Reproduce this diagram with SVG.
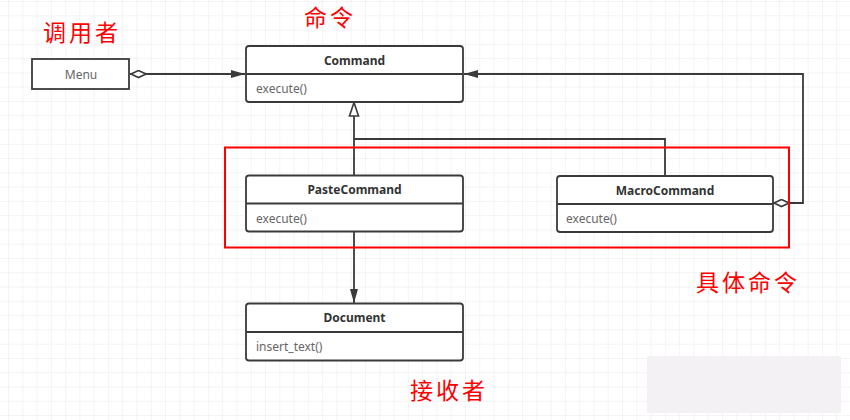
<svg xmlns="http://www.w3.org/2000/svg" width="850" height="420" viewBox="0 0 850 420">
<style>
.box{fill:#fff;stroke:#3a3a3a;stroke-width:1.8}
.div{stroke:#3a3a3a;stroke-width:1.8}
.title{font-family:"Noto Sans","Open Sans",sans-serif;font-size:12px;font-weight:bold;fill:#333;text-anchor:middle}
.meth{font-family:"Noto Sans","Open Sans",sans-serif;font-size:12px;fill:#666}
.conn{fill:none;stroke:#3a3a3a;stroke-width:1.8}
.red{font-family:"Noto Sans CJK SC",sans-serif;fill:#f00;font-size:23px;letter-spacing:3px}
</style>
<defs>
<pattern id="grid" x="8" y="1" width="14.28" height="14.28" patternUnits="userSpaceOnUse">
<path d="M0 0H14.28M0 0V14.28" fill="none" stroke="#ece8ec" stroke-width="1"/>
</pattern>
<marker id="arrow" viewBox="0 0 14 10" refX="14" refY="5" markerWidth="14" markerHeight="10" markerUnits="userSpaceOnUse" orient="auto">
<path d="M0 1L14 5L0 9Z" fill="#3a3a3a"/>
</marker>
<marker id="diamond" viewBox="0 0 17 9" refX="0" refY="4.5" markerWidth="17" markerHeight="9" markerUnits="userSpaceOnUse" orient="auto">
<path d="M1 4.5L8.5 1L16 4.5L8.5 8Z" fill="#fff" stroke="#3a3a3a" stroke-width="1.6"/>
</marker>
</defs>
<rect width="850" height="420" fill="#fff"/>
<rect width="850" height="420" fill="url(#grid)"/>
<rect x="647" y="356" width="194" height="57" fill="#f3f1f3"/>

<g id="connectors">
<path class="conn" d="M130 74H245" marker-start="url(#diamond)" marker-end="url(#arrow)"/>
<path class="conn" d="M773 203H803V74H464" marker-start="url(#diamond)" marker-end="url(#arrow)"/>
<path class="conn" d="M354 116V175M354 139H665V176"/>
<path d="M354 102.5L358.5 116H349.5Z" fill="#fff" stroke="#3a3a3a" stroke-width="1.6"/>
<path class="conn" d="M354 232V303" marker-end="url(#arrow)"/>
</g>

<g id="menu">
<rect class="box" x="32" y="59" width="97" height="30"/>
<text x="81" y="78.5" class="meth" text-anchor="middle">Menu</text>
</g>

<g id="command">
<rect class="box" x="246" y="46" width="217" height="56" rx="3"/>
<line class="div" x1="246" y1="74" x2="463" y2="74"/>
<text x="354.5" y="64.5" class="title">Command</text>
<text x="256" y="93" class="meth">execute()</text>
</g>

<g id="pastecommand">
<rect class="box" x="246" y="175.5" width="217" height="56" rx="3"/>
<line class="div" x1="246" y1="203.5" x2="463" y2="203.5"/>
<text x="354.5" y="194" class="title">PasteCommand</text>
<text x="256" y="222.5" class="meth">execute()</text>
</g>

<g id="macrocommand">
<rect class="box" x="557" y="176" width="216" height="56" rx="3"/>
<line class="div" x1="557" y1="204" x2="773" y2="204"/>
<text x="665" y="194.5" class="title">MacroCommand</text>
<text x="566" y="223" class="meth">execute()</text>
</g>

<g id="document">
<rect class="box" x="246" y="303.5" width="217" height="57" rx="3"/>
<line class="div" x1="246" y1="332" x2="463" y2="332"/>
<text x="354.5" y="322" class="title">Document</text>
<text x="256" y="350.5" class="meth">insert_text()</text>
</g>

<g id="concrete-group">
<rect x="225" y="147.5" width="564" height="100" fill="none" stroke="#f00" stroke-width="2"/>
</g>

<g id="labels">
<text x="43" y="41" class="red">调用者</text>
<text x="304" y="26" class="red">命令</text>
<text x="696" y="291" class="red">具体命令</text>
<text x="410" y="399" class="red">接收者</text>
</g>
</svg>
